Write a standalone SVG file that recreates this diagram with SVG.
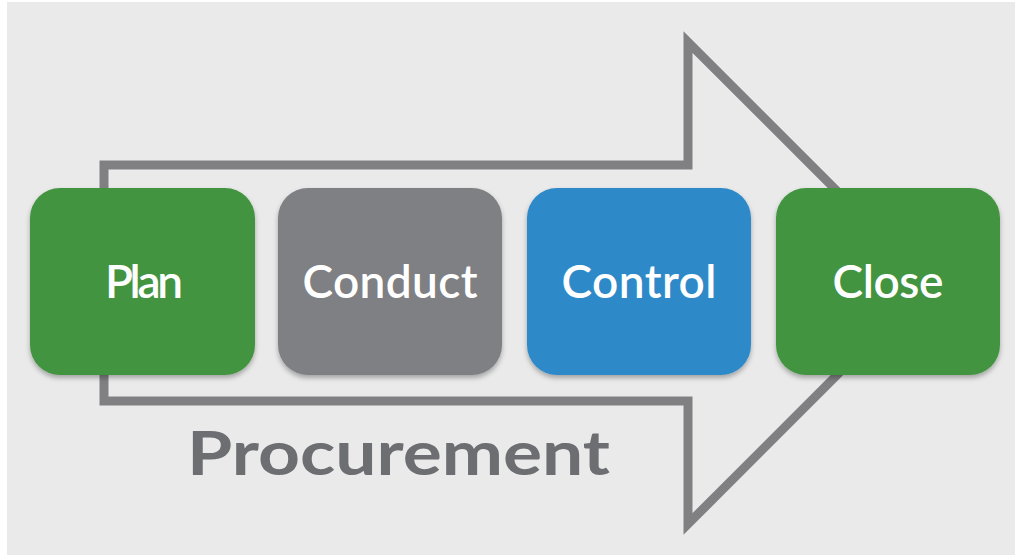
<svg xmlns="http://www.w3.org/2000/svg" width="1015" height="555" viewBox="0 0 1015 555">
  <defs>
    <filter id="shadow" x="-10%" y="-10%" width="120%" height="130%">
      <feDropShadow dx="0" dy="3" stdDeviation="2.5" flood-color="#000" flood-opacity="0.3"/>
    </filter>
    <style>
      .frame { fill: none; stroke: #808083; stroke-width: 9; stroke-linejoin: miter; }
      .box { filter: url(#shadow); }
      .label { font-family: Lato, "Open Sans", "Liberation Sans", sans-serif; font-size: 46px; font-weight: 600; fill: #ffffff; text-anchor: middle; }
      .title { font-family: Lato, "Open Sans", "Liberation Sans", sans-serif; font-size: 61px; font-weight: 700; fill: #6d6e71; }
    </style>
  </defs>

  <!-- page -->
  <rect x="0" y="0" width="1015" height="555" fill="#ffffff"/>
  <rect x="7" y="2" width="1008" height="553" fill="#ebeaeb"/>

  <!-- process arrow outline -->
  <g id="connectors">
    <path class="frame" d="M104,165 L688,165 L688,42 L929,283 L688,524 L688,401 L104,401 Z"/>
  </g>

  <g id="plan">
    <rect class="box" x="30" y="188" width="225" height="187" rx="30" fill="#43943f"/>
    <text class="label" x="144" y="298" textLength="78">Plan</text>
  </g>

  <g id="conduct">
    <rect class="box" x="278" y="188" width="224" height="187" rx="30" fill="#7f8083"/>
    <text class="label" x="390" y="298" textLength="175">Conduct</text>
  </g>

  <g id="control">
    <rect class="box" x="527" y="188" width="224" height="187" rx="30" fill="#2e89c9"/>
    <text class="label" x="639" y="298" textLength="155">Control</text>
  </g>

  <g id="close">
    <rect class="box" x="776" y="188" width="224" height="187" rx="30" fill="#43943f"/>
    <text class="label" x="888" y="298" textLength="111">Close</text>
  </g>

  <g id="caption">
    <text class="title" x="187" y="475" textLength="423" lengthAdjust="spacingAndGlyphs">Procurement</text>
  </g>
</svg>
